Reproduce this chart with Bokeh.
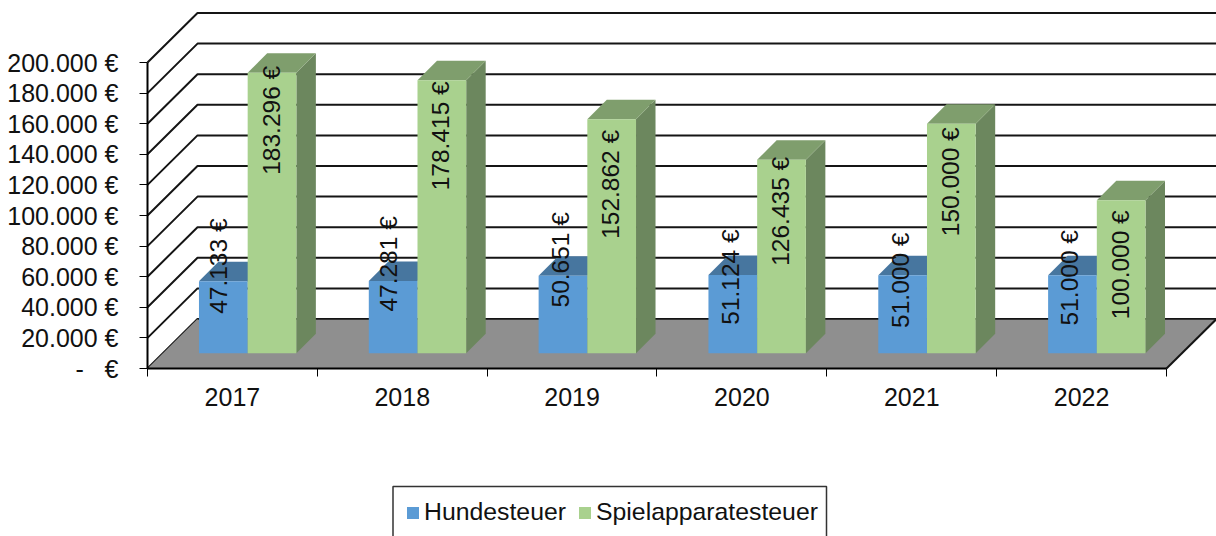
from bokeh.embed import file_html
from bokeh.resources import INLINE
from bokeh.plotting import figure
from bokeh.models import (Range1d, FixedTicker, Legend, LegendItem, BoxAnnotation,
                          ColumnDataSource, LinearAxis)
from bokeh.core.properties import value
import math

# ---- data ----
years = ["2017", "2018", "2019", "2020", "2021", "2022"]
hundesteuer = [47133, 47281, 50651, 51124, 51000, 51000]
spielapparatesteuer = [183296, 178415, 152862, 126435, 150000, 100000]
hund_labels = ["47.133 €", "47.281 €", "50.651 €", "51.124 €", "51.000 €", "51.000 €"]
spiel_labels = ["183.296 €", "178.415 €", "152.862 €", "126.435 €", "150.000 €", "100.000 €"]
y_ticks = [0, 20000, 40000, 60000, 80000, 100000, 120000, 140000, 160000, 180000, 200000]
y_tick_labels = ["-\u00a0\u00a0\u00a0€", "20.000 €", "40.000 €", "60.000 €", "80.000 €", "100.000 €",
                 "120.000 €", "140.000 €", "160.000 €", "180.000 €", "200.000 €"]

# ---- layout (pixels) ----
W, H = 1216, 536
LEFT_PX, BASE_PX = 147, 368          # position of the axes' origin
SLOT_PX = 169.83                     # width of one category
PX_PER_VALUE = 306 / 200000
WALL_DX, WALL_DY = 50, 49.5          # depth of the floor
BAR_FRONT, BAR_DEPTH = 15.25, 19.5   # depth of the bars
BAR_W = 48.7
hund_dx = [-5, -5, -2, -2, -2, -3]
hund_dy = [-15, -17, -16, 2, 5, 2.5]
spiel_dx = [-1, -1, -1, -1, -1, -1]
spiel_dy = [47.5, 55.5, 65, 51.5, 58, 64.5]

COL_TEXT = "#111111"
FONT = "Liberation Sans"
FS = "25px"
FS_L = "24.5px"
FS_LEG = "24.8px"

px_x = lambda d: d / SLOT_PX
px_y = lambda d: d / PX_PER_VALUE
n = len(years)

p = figure(width=W, height=H, output_backend="svg", toolbar_location=None,
           x_range=Range1d(-LEFT_PX / SLOT_PX, (W - LEFT_PX) / SLOT_PX),
           y_range=Range1d(-(H - BASE_PX) / PX_PER_VALUE, BASE_PX / PX_PER_VALUE),
           x_axis_type=None, y_axis_type=None,
           min_border=0, background_fill_color="white",
           border_fill_color="white", outline_line_color=None)
p.grid.visible = False

# walls: grid lines run up the side wall, then along the back
grid_xs = [[0, px_x(WALL_DX), n + px_x(WALL_DX)] for _ in y_ticks]
grid_ys = [[t, t + px_y(WALL_DY), t + px_y(WALL_DY)] for t in y_ticks]
p.multi_line(grid_xs, grid_ys, line_color="#151515", line_width=2)

# floor
p.patch([0, px_x(WALL_DX), n + px_x(WALL_DX), n],
        [0, px_y(WALL_DY), px_y(WALL_DY), 0],
        fill_color="#8f8f8f", line_color=None)
p.line([n, n + px_x(WALL_DX)], [0, px_y(WALL_DY)], line_color="#151515", line_width=2)
p.line([px_x(WALL_DX), n + px_x(WALL_DX)], [px_y(WALL_DY)] * 2, line_color="#151515", line_width=1.5)


def bar_faces(values, col):
    """front, top and side faces of one series; col 0 is left of the slot centre, col 1 right"""
    front, top, side = ([], []), ([], []), ([], [])
    for i, v in enumerate(values):
        cx = i + 0.5 + px_x(BAR_FRONT)
        x0 = cx + px_x((col - 1) * BAR_W)
        x1 = x0 + px_x(BAR_W)
        y0 = px_y(BAR_FRONT)
        y1 = y0 + v
        dx, dy = px_x(BAR_DEPTH), px_y(BAR_DEPTH)
        front[0].append([x0, x1, x1, x0]); front[1].append([y0, y0, y1, y1])
        top[0].append([x0, x1, x1 + dx, x0 + dx]); top[1].append([y1, y1, y1 + dy, y1 + dy])
        side[0].append([x1, x1 + dx, x1 + dx, x1]); side[1].append([y0, y0 + dy, y1 + dy, y1])
    return front, top, side


r_h, t_h, s_h = bar_faces(hundesteuer, 0)
r_s, t_s, s_s = bar_faces(spielapparatesteuer, 1)

p.patches(*s_h, fill_color="#3f6a94", line_color=None)
p.patches(*t_h, fill_color="#47769f", line_color=None)
front_h = p.patches(*r_h, fill_color="#5b9bd5", line_color=None)
p.patches(*s_s, fill_color="#6c875e", line_color=None)
p.patches(*t_s, fill_color="#7f9e6d", line_color=None)
front_s = p.patches(*r_s, fill_color="#a9d18e", line_color=None)


def labels(vals, texts, col, dxs, dys):
    src = ColumnDataSource(dict(
        x=[i + 0.5 + px_x(BAR_FRONT) + px_x((col - 0.5) * BAR_W) for i in range(n)],
        y=[v + px_y(BAR_FRONT) for v in vals], t=texts, dx=dxs, dy=dys))
    p.text("x", "y", text="t", source=src, x_offset="dx", y_offset="dy", angle=math.pi / 2,
           text_align="center", text_baseline="middle", text_color=COL_TEXT,
           text_font=value(FONT), text_font_size=value(FS_L))


labels(hundesteuer, hund_labels, 0, hund_dx, hund_dy)
labels(spielapparatesteuer, spiel_labels, 1, spiel_dx, spiel_dy)

# y axis, pinned at the left end of the first category
ya = LinearAxis(fixed_location=0)
ya.ticker = FixedTicker(ticks=y_ticks)
ya.major_label_overrides = dict(zip(y_ticks, y_tick_labels))
ya.bounds = (0, 200000)
ya.axis_line_color = "black"
ya.axis_line_width = 2
ya.major_tick_line_color = "black"
ya.major_tick_line_width = 1
ya.major_tick_out = 8
ya.major_tick_in = 0
ya.minor_tick_out = 0
ya.minor_tick_in = 0
ya.major_label_standoff = 21
ya.major_label_text_font = FONT
ya.major_label_text_font_size = FS
ya.major_label_text_color = COL_TEXT
p.add_layout(ya, "left")

# x axis: labels at slot centres, ticks at slot edges
centres = [i + 0.5 for i in range(n)]
xa = LinearAxis(fixed_location=0)
xa.ticker = FixedTicker(ticks=centres, minor_ticks=list(range(n + 1)))
xa.major_label_overrides = dict(zip(centres, years))
xa.bounds = (0, n)
xa.axis_line_color = "black"
xa.axis_line_width = 2
xa.major_tick_out = 0
xa.major_tick_in = 0
xa.minor_tick_line_color = "black"
xa.minor_tick_line_width = 1
xa.minor_tick_out = 8
xa.minor_tick_in = 0
xa.major_label_standoff = 11
xa.major_label_text_font = FONT
xa.major_label_text_font_size = FS
xa.major_label_text_color = COL_TEXT
p.add_layout(xa, "below")

# legend
legend = Legend(items=[LegendItem(label="Hundesteuer", renderers=[front_h]),
                       LegendItem(label="Spielapparatesteuer", renderers=[front_s])],
                orientation="horizontal", location=(405, 10), margin=0, padding=14,
                spacing=11, glyph_width=15, glyph_height=15, label_standoff=4,
                label_text_font=FONT, label_text_font_size=FS_LEG, label_text_color=COL_TEXT,
                border_line_color=None, background_fill_alpha=0)
p.add_layout(legend, "center")
p.add_layout(BoxAnnotation(left=392.5, right=826, top=486, bottom=560,
                           left_units="canvas", right_units="canvas",
                           top_units="canvas", bottom_units="canvas",
                           fill_alpha=0, line_color="#333333", line_alpha=1, line_width=1.5))

open("out.html", "w").write(file_html(p, INLINE))
